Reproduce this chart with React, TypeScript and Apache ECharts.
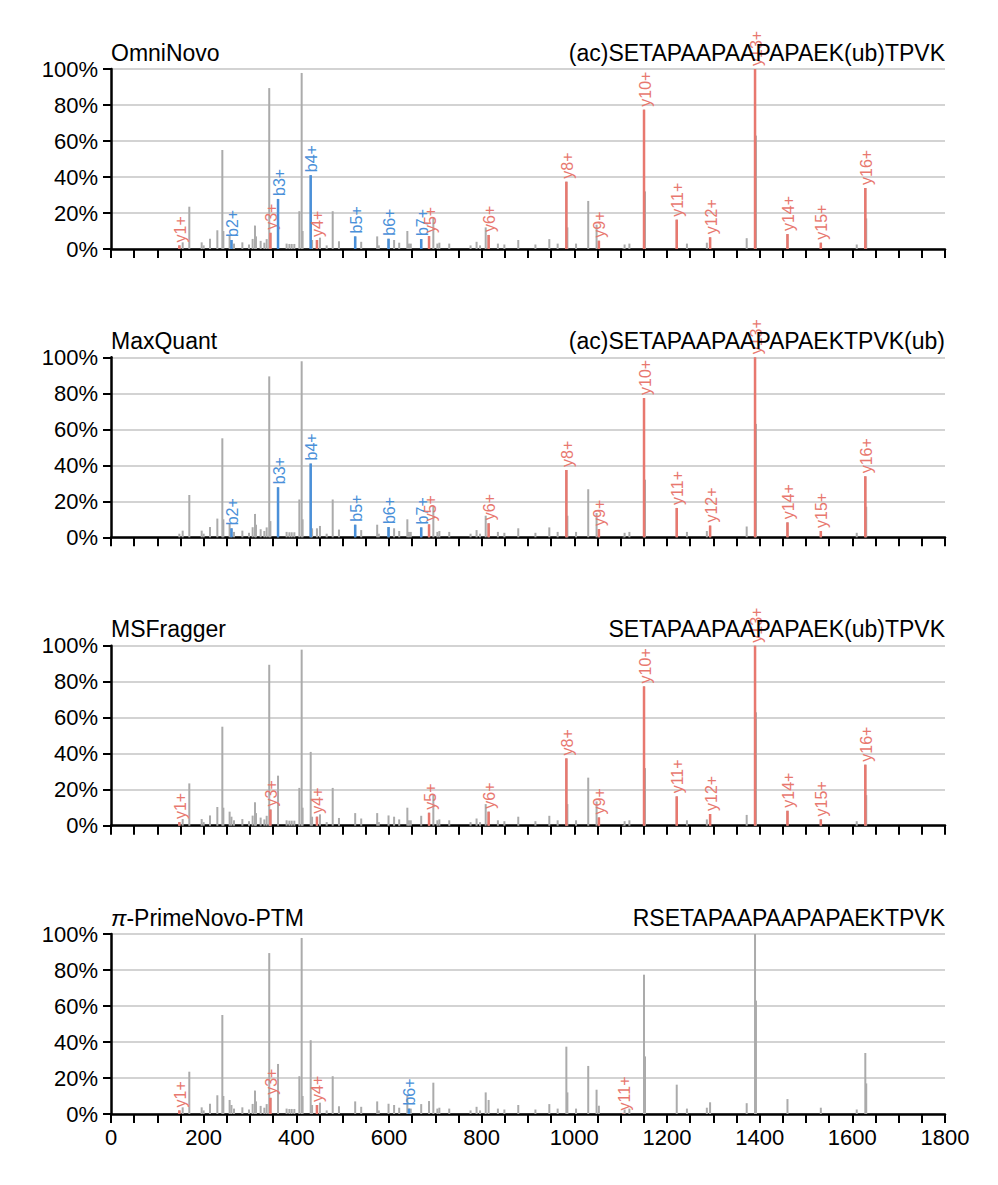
import React, { useEffect, useRef } from "react";
import * as echarts from "echarts";

// ---- Data ----
const spectrumMz = [
  147.5, 154.7, 169, 195.7, 200, 213.7, 229.5, 240.3, 242.5, 256, 260, 265.5,
  283.5, 297.9, 305.7, 310.8, 313, 323, 331, 336, 341.5, 344, 360.5, 379, 385,
  390, 395.7, 406.5, 411.5, 413.5, 431, 434, 444.5, 451, 465.5, 478.5, 492, 527,
  540, 574.5, 578, 599, 611, 622, 639.6, 643, 647, 669.5, 686.4, 695.7, 704.4,
  708.7, 730, 776, 789, 796.5, 808.7, 815, 835, 849, 879, 916, 946, 964, 982.8,
  985, 1003.7, 1030, 1048, 1053, 1106, 1108.5, 1118.8, 1150.4, 1152.5, 1221,
  1243, 1286, 1293, 1372, 1390, 1392, 1460, 1532, 1609.5, 1628, 1630,
];
const spectrumIntensity = [
  2, 3.7, 23.5, 3.7, 2, 5.7, 10.4, 55, 10, 7.8, 5, 3,
  3.7, 2.5, 5.6, 13, 7, 4.5, 3.5, 5.5, 89.4, 9, 27.8, 3, 2.8,
  2.8, 2.8, 21, 97.8, 10, 41, 5, 5, 6.3, 2, 21, 4.3, 7,
  4, 7, 2, 5.7, 5, 3.5, 10, 3, 3, 5.5, 7.2, 17.4, 3,
  3.5, 3, 2, 4, 2, 12, 7.8, 3, 2.5, 5, 2.5, 5.5, 3, 37.4,
  12, 3, 26.7, 13.5, 4.6, 0.3, 2.5, 3, 77.4, 32, 16.3,
  3, 3.5, 6.5, 6, 100, 63, 8.3, 3.5, 2.5, 33.9, 17,
];

const omniNovoIons: [string, number][] = [
  ["y1+", 147.5], ["b2+", 260], ["y3+", 344], ["b3+", 360.5], ["b4+", 431],
  ["y4+", 444.5], ["b5+", 527], ["b6+", 599], ["b7+", 669.5], ["y5+", 686.4],
  ["y6+", 815], ["y8+", 982.8], ["y9+", 1053], ["y10+", 1150.4], ["y11+", 1221],
  ["y12+", 1293], ["y13+", 1390], ["y14+", 1460], ["y15+", 1532], ["y16+", 1628],
];
const maxQuantIons: [string, number][] = [
  ["b2+", 260], ["b3+", 360.5], ["b4+", 431], ["b5+", 527], ["b6+", 599],
  ["b7+", 669.5], ["y5+", 686.4], ["y6+", 815], ["y8+", 982.8], ["y9+", 1053],
  ["y10+", 1150.4], ["y11+", 1221], ["y12+", 1293], ["y13+", 1390], ["y14+", 1460],
  ["y15+", 1532], ["y16+", 1628],
];
const msFraggerIons: [string, number][] = [
  ["y1+", 147.5], ["y3+", 344], ["y4+", 444.5], ["y5+", 686.4], ["y6+", 815],
  ["y8+", 982.8], ["y9+", 1053], ["y10+", 1150.4], ["y11+", 1221], ["y12+", 1293],
  ["y13+", 1390], ["y14+", 1460], ["y15+", 1532], ["y16+", 1628],
];
const primeNovoIons: [string, number][] = [
  ["y1+", 147.5], ["y3+", 344], ["y4+", 444.5], ["b6+", 643], ["y11+", 1106],
];

const toolNames = ["OmniNovo", "MaxQuant", "MSFragger", "{pi|π}-PrimeNovo-PTM"];
const peptides = [
  "(ac)SETAPAAPAAPAPAEK(ub)TPVK",
  "(ac)SETAPAAPAAPAPAEKTPVK(ub)",
  "SETAPAAPAAPAPAEK(ub)TPVK",
  "RSETAPAAPAAPAPAEKTPVK",
];
const panelIons = [omniNovoIons, maxQuantIons, msFraggerIons, primeNovoIons];

// ---- Layout / style ----
const FONT = "'Liberation Sans', Arial, Helvetica, sans-serif";
const LEFT = 111;
const RIGHT = 53;
const PLOT_H = 180;
const TOPS = [69, 357.3, 645.7, 934];
const GREY = "#ababab";
const RED = "#e8786f";
const BLUE = "#4a90d9";

function intensityAt(mz: number): number {
  const i = spectrumMz.indexOf(mz);
  return i >= 0 ? spectrumIntensity[i] : 0;
}

export default function App() {
  const ref = useRef<HTMLDivElement>(null);

  useEffect(() => {
    if (!ref.current) return;
    const chart = echarts.init(ref.current, undefined, { renderer: "svg" });

    const grids: any[] = [];
    const xAxes: any[] = [];
    const yAxes: any[] = [];
    const series: any[] = [];
    const titles: any[] = [];

    TOPS.forEach((top, i) => {
      grids.push({ left: LEFT, right: RIGHT, top, height: PLOT_H });
      xAxes.push({
        gridIndex: i,
        type: "value",
        min: 0,
        max: 1800,
        interval: 50,
        axisLine: { show: true, onZero: false, lineStyle: { color: "#000", width: 2.5 } },
        axisTick: { show: true, length: 9, lineStyle: { color: "#000", width: 2 } },
        splitLine: { show: false },
        axisLabel: {
          show: i === 3,
          formatter: (v: number) => (v % 200 === 0 ? String(v) : ""),
          fontSize: 22,
          color: "#000",
          margin: 12,
          fontFamily: FONT,
        },
      });
      yAxes.push({
        gridIndex: i,
        type: "value",
        min: 0,
        max: 100,
        interval: 20,
        axisLine: { show: true, lineStyle: { color: "#000", width: 2.5 } },
        axisTick: { show: true, length: 8, lineStyle: { color: "#000", width: 2 } },
        axisLabel: {
          formatter: "{value}%",
          fontSize: 22,
          color: "#000",
          margin: 13,
          fontFamily: FONT,
        },
        splitLine: { show: true, lineStyle: { color: "#d3d3d3", width: 2 } },
      });

      series.push({
        type: "custom",
        xAxisIndex: i,
        yAxisIndex: i,
        z: 2,
        data: spectrumMz.map((m, k) => [m, spectrumIntensity[k]]),
        encode: { x: 0, y: 1 },
        renderItem: (params: any, api: any) => {
          const p0 = api.coord([api.value(0), 0]);
          const p1 = api.coord([api.value(0), api.value(1)]);
          return {
            type: "line",
            shape: { x1: p0[0], y1: p0[1], x2: p1[0], y2: p1[1] },
            style: { stroke: GREY, lineWidth: 2 },
          };
        },
      });

      const ions = panelIons[i];
      series.push({
        type: "custom",
        xAxisIndex: i,
        yAxisIndex: i,
        z: 3,
        clip: false,
        data: ions.map(([, mz]) => [mz, intensityAt(mz)]),
        encode: { x: 0, y: 1 },
        renderItem: (params: any, api: any) => {
          const label = ions[params.dataIndex][0];
          const color = label[0] === "b" ? BLUE : RED;
          const p0 = api.coord([api.value(0), 0]);
          const p1 = api.coord([api.value(0), api.value(1)]);
          return {
            type: "group",
            children: [
              {
                type: "line",
                shape: { x1: p0[0], y1: p0[1], x2: p1[0], y2: p1[1] },
                style: { stroke: color, lineWidth: 2.5 },
              },
              {
                type: "text",
                x: p1[0] + 1,
                y: p1[1] - 3,
                rotation: Math.PI / 2,
                style: {
                  text: label,
                  fill: color,
                  font: `16px ${FONT}`,
                  align: "left",
                  verticalAlign: "middle",
                },
              },
            ],
          };
        },
      });

      titles.push({
        text: toolNames[i],
        left: LEFT,
        top: top - 28,
        padding: 0,
        textStyle: {
          fontSize: 23,
          fontWeight: "normal",
          color: "#000",
          fontFamily: FONT,
          rich: {
            pi: { fontSize: 23, fontStyle: "italic", color: "#000", fontFamily: FONT },
          },
        },
      });
      titles.push({
        text: peptides[i],
        right: RIGHT,
        top: top - 28,
        padding: 0,
        textStyle: {
          fontSize: 23,
          fontWeight: "normal",
          color: "#000",
          fontFamily: FONT,
        },
      });
    });

    chart.setOption({
      animation: false,
      backgroundColor: "#fff",
      title: titles,
      grid: grids,
      xAxis: xAxes,
      yAxis: yAxes,
      series,
    });

    return () => chart.dispose();
  }, []);

  return (
    <div
      ref={ref}
      style={{ position: "absolute", left: 0, top: 0, width: 998, height: 1185 }}
    />
  );
}
